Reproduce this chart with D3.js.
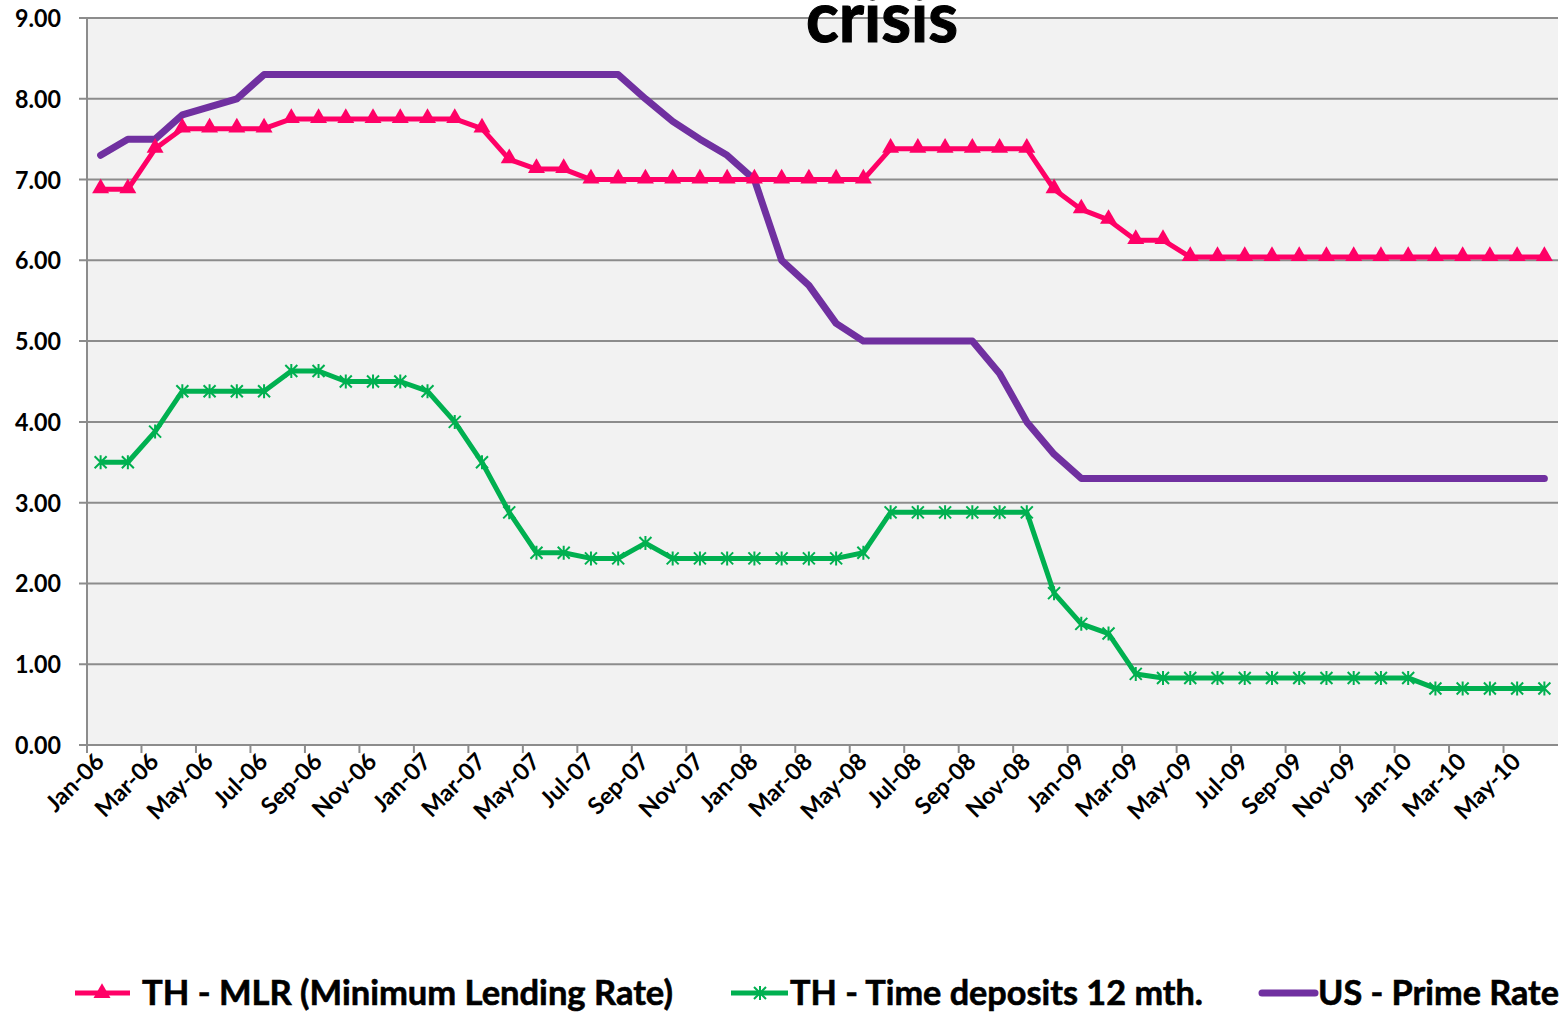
<!DOCTYPE html>
<html>

<head>
  <title>Interest rates</title>
  <script src="https://cdn.jsdelivr.net/npm/d3@7"></script>
  <style>
    body { margin: 0; background: #fff; }
    text { font-family: Lato, "Open Sans", sans-serif; font-weight: bold; fill: #000; }
  </style>
</head>

<body>
  <svg width="1559" height="1013" id="mainsvg"></svg>
  <script>
    const months = ['Jan-06', 'Feb-06', 'Mar-06', 'Apr-06', 'May-06', 'Jun-06', 'Jul-06', 'Aug-06', 'Sep-06', 'Oct-06', 'Nov-06', 'Dec-06',
      'Jan-07', 'Feb-07', 'Mar-07', 'Apr-07', 'May-07', 'Jun-07', 'Jul-07', 'Aug-07', 'Sep-07', 'Oct-07', 'Nov-07', 'Dec-07',
      'Jan-08', 'Feb-08', 'Mar-08', 'Apr-08', 'May-08', 'Jun-08', 'Jul-08', 'Aug-08', 'Sep-08', 'Oct-08', 'Nov-08', 'Dec-08',
      'Jan-09', 'Feb-09', 'Mar-09', 'Apr-09', 'May-09', 'Jun-09', 'Jul-09', 'Aug-09', 'Sep-09', 'Oct-09', 'Nov-09', 'Dec-09',
      'Jan-10', 'Feb-10', 'Mar-10', 'Apr-10', 'May-10', 'Jun-10'];

    const mlr = [6.88, 6.88, 7.38, 7.63, 7.63, 7.63, 7.63, 7.75, 7.75, 7.75, 7.75, 7.75,
      7.75, 7.75, 7.63, 7.25, 7.13, 7.13, 7.00, 7.00, 7.00, 7.00, 7.00, 7.00,
      7.00, 7.00, 7.00, 7.00, 7.00, 7.38, 7.38, 7.38, 7.38, 7.38, 7.38, 6.88,
      6.63, 6.50, 6.25, 6.25, 6.04, 6.04, 6.04, 6.04, 6.04, 6.04, 6.04, 6.04,
      6.04, 6.04, 6.04, 6.04, 6.04, 6.04];

    const deposit = [3.50, 3.50, 3.88, 4.38, 4.38, 4.38, 4.38, 4.63, 4.63, 4.50, 4.50, 4.50,
      4.38, 4.00, 3.50, 2.88, 2.38, 2.38, 2.31, 2.31, 2.50, 2.31, 2.31, 2.31,
      2.31, 2.31, 2.31, 2.31, 2.38, 2.88, 2.88, 2.88, 2.88, 2.88, 2.88, 1.88,
      1.50, 1.38, 0.88, 0.83, 0.83, 0.83, 0.83, 0.83, 0.83, 0.83, 0.83, 0.83,
      0.83, 0.70, 0.70, 0.70, 0.70, 0.70];

    const prime = [7.30, 7.50, 7.50, 7.80, 7.90, 8.00, 8.30, 8.30, 8.30, 8.30, 8.30, 8.30,
      8.30, 8.30, 8.30, 8.30, 8.30, 8.30, 8.30, 8.30, 8.00, 7.72, 7.50, 7.30,
      7.00, 6.00, 5.69, 5.22, 5.00, 5.00, 5.00, 5.00, 5.00, 4.60, 4.00, 3.60,
      3.30, 3.30, 3.30, 3.30, 3.30, 3.30, 3.30, 3.30, 3.30, 3.30, 3.30, 3.30,
      3.30, 3.30, 3.30, 3.30, 3.30, 3.30];

    const yTicks = [0, 1, 2, 3, 4, 5, 6, 7, 8, 9];
    const seriesNames = ['TH - MLR (Minimum Lending Rate)', 'TH - Time deposits 12 mth.', 'US - Prime Rate'];

    const svg = d3.select('#mainsvg');
    const margin = { top: 18, right: 1, bottom: 268, left: 87 };
    const width = +svg.attr('width');
    const height = +svg.attr('height');

    const x = d3.scaleBand().domain(months).range([margin.left, width - margin.right]);
    const y = d3.scaleLinear().domain([0, 9]).range([height - margin.bottom, margin.top]);
    const cx = d => x(d) + x.bandwidth() / 2;

    // plot area
    svg.append('rect')
      .attr('x', margin.left).attr('y', margin.top)
      .attr('width', width - margin.right - margin.left)
      .attr('height', y(0) - margin.top)
      .attr('fill', '#f2f2f2');

    // gridlines + y labels
    const grid = svg.append('g');
    grid.selectAll('line').data(yTicks).join('line')
      .attr('x1', margin.left - 8).attr('x2', width - margin.right)
      .attr('y1', d => y(d)).attr('y2', d => y(d))
      .attr('stroke', '#8c8c8c').attr('stroke-width', 2);
    grid.selectAll('text').data(yTicks).join('text')
      .attr('x', 61).attr('y', d => y(d) + 9)
      .attr('text-anchor', 'end')
      .attr('font-size', 25)
      .attr('textLength', 46)
      .attr('lengthAdjust', 'spacingAndGlyphs')
      .text(d => d.toFixed(2));

    // axes lines
    svg.append('line')
      .attr('x1', margin.left).attr('x2', margin.left)
      .attr('y1', margin.top).attr('y2', y(0) + 8)
      .attr('stroke', '#8c8c8c').attr('stroke-width', 2);

    const xLabels = months.filter((d, i) => i % 2 === 0);
    svg.append('g').selectAll('line').data(xLabels).join('line')
      .attr('x1', d => x(d)).attr('x2', d => x(d))
      .attr('y1', y(0)).attr('y2', y(0) + 8)
      .attr('stroke', '#8c8c8c').attr('stroke-width', 2);
    svg.append('g').selectAll('text').data(xLabels).join('text')
      .attr('transform', d => `translate(${cx(d) + 5}, ${y(0) + 18}) rotate(-45)`)
      .attr('text-anchor', 'end')
      .attr('font-size', 23.5)
      .text(d => d);

    // lines
    const line = d3.line().x((d, i) => cx(months[i])).y(d => y(d));

    svg.append('path').datum(prime)
      .attr('fill', 'none').attr('stroke', '#7030a0').attr('stroke-width', 7)
      .attr('stroke-linejoin', 'round').attr('stroke-linecap', 'round')
      .attr('d', line);

    svg.append('path').datum(deposit)
      .attr('fill', 'none').attr('stroke', '#00b050').attr('stroke-width', 5)
      .attr('stroke-linejoin', 'round')
      .attr('d', line);

    svg.append('path').datum(mlr)
      .attr('fill', 'none').attr('stroke', '#ff0066').attr('stroke-width', 5)
      .attr('stroke-linejoin', 'round')
      .attr('d', line);

    const asterisk = 'M-6,-6L6,6M-6,6L6,-6M0,-7L0,7';
    const triangle = d3.symbol().type(d3.symbolTriangle).size(125);

    svg.append('g').selectAll('path').data(deposit).join('path')
      .attr('transform', (d, i) => `translate(${cx(months[i])}, ${y(d)})`)
      .attr('d', asterisk)
      .attr('stroke', '#00b050').attr('stroke-width', 2).attr('fill', 'none');

    svg.append('g').selectAll('path').data(mlr).join('path')
      .attr('transform', (d, i) => `translate(${cx(months[i])}, ${y(d) - 1})`)
      .attr('d', triangle)
      .attr('fill', '#ff0066');

    // title (only last line visible)
    svg.append('text')
      .attr('x', 806).attr('y', 42)
      .attr('font-size', 70)
      .attr('textLength', 152)
      .attr('lengthAdjust', 'spacingAndGlyphs')
      .attr('stroke', '#000').attr('stroke-width', 1.2)
      .text('crisis');

    // legend
    const ly = 993;
    const legend = svg.append('g');
    legend.append('line').attr('x1', 75).attr('x2', 130).attr('y1', ly).attr('y2', ly)
      .attr('stroke', '#ff0066').attr('stroke-width', 5);
    legend.append('path').attr('transform', `translate(102, ${ly})`).attr('d', triangle).attr('fill', '#ff0066');
    legend.append('line').attr('x1', 731).attr('x2', 788).attr('y1', ly).attr('y2', ly)
      .attr('stroke', '#00b050').attr('stroke-width', 5);
    legend.append('path').attr('transform', `translate(760, ${ly})`).attr('d', asterisk)
      .attr('stroke', '#00b050').attr('stroke-width', 2).attr('fill', 'none');
    legend.append('line').attr('x1', 1262).attr('x2', 1315).attr('y1', ly).attr('y2', ly)
      .attr('stroke', '#7030a0').attr('stroke-width', 7).attr('stroke-linecap', 'round');

    const legendText = [
      { x: 142, w: 531 },
      { x: 790, w: 413 },
      { x: 1318, w: 241 }
    ];
    legend.selectAll('text').data(seriesNames).join('text')
      .attr('x', (d, i) => legendText[i].x)
      .attr('y', ly + 12)
      .attr('font-size', 34)
      .attr('textLength', (d, i) => legendText[i].w)
      .attr('lengthAdjust', 'spacingAndGlyphs')
      .attr('stroke', '#000').attr('stroke-width', 0.6)
      .text(d => d);
  </script>
</body>

</html>
